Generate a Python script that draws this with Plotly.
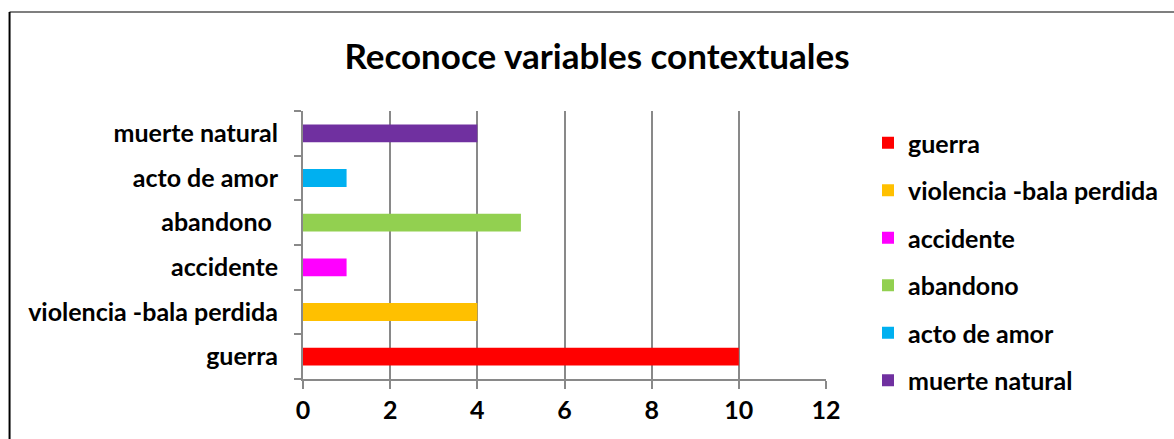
import plotly.graph_objects as go

# Categories (bottom to top on the axis) and their counts
categories = ["guerra", "violencia -bala perdida", "accidente",
              "abandono ", "acto de amor", "muerte natural"]
values = [10, 4, 1, 5, 1, 4]
colors = ["#FF0000", "#FFC000", "#FF00FF", "#92D050", "#00B0F0", "#7030A0"]
x_ticks = [0, 2, 4, 6, 8, 10, 12]

FONT = "Lato"
W, H = 1174, 439
L, R, T, B = 303, 347, 111, 60
pw, ph = W - L - R, H - T - B


def px_x(px):
    return (px - L) / pw


def px_y(py):
    return (H - B - py) / ph


fig = go.Figure()
for i, (cat, val, col) in enumerate(zip(categories, values, colors)):
    fig.add_trace(go.Bar(
        y=[cat], x=[val], orientation="h", name=cat.strip(),
        marker=dict(color=col, line=dict(width=0)),
        width=0.4, legendgroup=f"g{i}",
    ))

axis_gray = "#898989"
fig.update_layout(
    width=W, height=H,
    margin=dict(l=L, r=R, t=T, b=B),
    paper_bgcolor="white", plot_bgcolor="white",
    barmode="overlay",
    font=dict(family=FONT, color="black"),
    title=dict(text="Reconoce variables contextuales",
               font=dict(family=FONT, size=35, weight="bold"),
               x=597 / W, xanchor="center",
               y=1 - 57 / H, yanchor="middle", xref="container", yref="container"),
    xaxis=dict(range=[0, 12], tickvals=x_ticks, showgrid=True,
               gridcolor=axis_gray, gridwidth=2,
               showline=True, linecolor=axis_gray, linewidth=2,
               ticks="outside", ticklen=8, tickwidth=2, tickcolor=axis_gray,
               tickfont=dict(family=FONT, size=25, weight="bold"),
               zeroline=False, fixedrange=True),
    yaxis=dict(type="category", categoryorder="array", categoryarray=categories,
               range=[-0.5, 5.5], showline=True, linecolor=axis_gray, linewidth=2,
               ticks="outside", ticklen=7, tickwidth=2, tickcolor=axis_gray,
               tickson="boundaries", showgrid=False, ticklabelstandoff=18,
               tickfont=dict(family=FONT, size=25, weight="bold"),
               fixedrange=True),
    legend=dict(x=px_x(868), xanchor="left", y=px_y(120), yanchor="top",
                font=dict(family=FONT, size=25, weight="bold"),
                traceorder="grouped", tracegroupgap=12, maxheight=430,
                bgcolor="rgba(0,0,0,0)", borderwidth=0),
    showlegend=True,
    shapes=[
        dict(type="line", xref="paper", yref="paper",
             x0=px_x(9), x1=px_x(1180), y0=px_y(12), y1=px_y(12),
             line=dict(color="#7F7F7F", width=2)),
        dict(type="line", xref="paper", yref="paper",
             x0=px_x(9), x1=px_x(9), y0=px_y(12), y1=px_y(450),
             line=dict(color="#000000", width=2)),
    ],
)

fig.write_html("out.html")
